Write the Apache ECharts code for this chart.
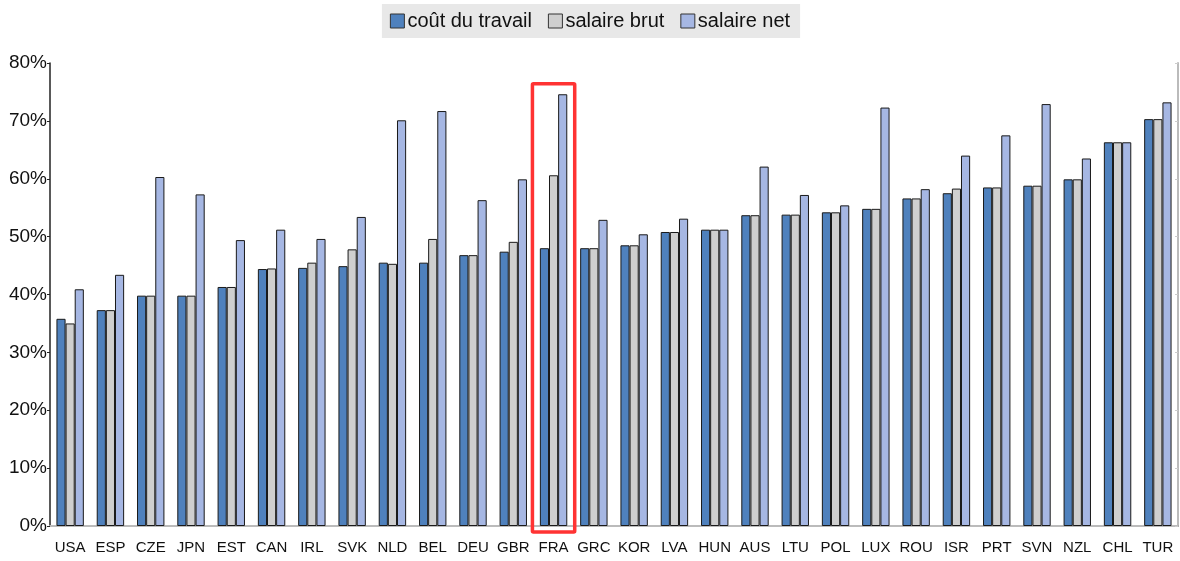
<!DOCTYPE html>
<html>
<head>
<meta charset="utf-8">
<script src="https://cdn.jsdelivr.net/npm/echarts@6/dist/echarts.min.js"></script>
<style>
  html, body { margin: 0; padding: 0; background: #fff; }
  #chart { width: 1180px; height: 561px; }
</style>
</head>
<body>
<div id="chart"></div>
<script>
var countries = ['USA', 'ESP', 'CZE', 'JPN', 'EST', 'CAN', 'IRL', 'SVK', 'NLD', 'BEL', 'DEU', 'GBR', 'FRA', 'GRC',
    'KOR', 'LVA', 'HUN', 'AUS', 'LTU', 'POL', 'LUX', 'ROU', 'ISR', 'PRT', 'SVN', 'NZL', 'CHL', 'TUR'];

var coutTravail = [35.8, 37.3, 39.8, 39.8, 41.3, 44.4, 44.6, 44.9, 45.5, 45.5, 46.8, 47.4, 48.0, 48.0,
    48.5, 50.8, 51.2, 53.7, 53.8, 54.2, 54.8, 56.6, 57.5, 58.5, 58.8, 59.9, 66.3, 70.3];
var salaireBrut = [35.0, 37.3, 39.8, 39.8, 41.3, 44.5, 45.5, 47.8, 45.3, 49.6, 46.8, 49.1, 60.6, 48.0,
    48.5, 50.8, 51.2, 53.7, 53.8, 54.2, 54.8, 56.6, 58.3, 58.5, 58.8, 59.9, 66.3, 70.3];
var salaireNet = [40.9, 43.4, 60.3, 57.3, 49.4, 51.2, 49.6, 53.4, 70.1, 71.7, 56.3, 59.9, 74.6, 52.9,
    50.4, 53.1, 51.2, 62.1, 57.2, 55.4, 72.3, 58.2, 64.0, 67.5, 72.9, 63.5, 66.3, 73.2];

var seriesNames = ['coût du travail', 'salaire brut', 'salaire net'];

// highlighted country and the top of its frame (in %)
var highlight = [['FRA', 76.4]];

var myChart = echarts.init(document.getElementById('chart'));

var font = 'Liberation Sans, Arial, sans-serif';
var barStyle = function (color) {
    return { color: color, borderColor: '#1a1a1a', borderWidth: 1 };
};

var option = {
    animation: false,
    textStyle: { fontFamily: font },
    legend: {
        top: 4,
        left: 'center',
        data: seriesNames,
        icon: 'rect',
        backgroundColor: '#e8e8e8',
        padding: [7, 10, 7, 8],
        itemGap: 16,
        itemWidth: 14,
        itemHeight: 14,
        itemStyle: { borderColor: '#333', borderWidth: 1 },
        textStyle: { fontSize: 20, color: '#111', fontFamily: font, padding: [0, 0, 0, -2] }
    },
    grid: { left: 50, right: 2, top: 63, bottom: 35 },
    xAxis: [{
        type: 'category',
        data: countries,
        axisLine: { lineStyle: { color: '#222', width: 1.5 } },
        axisTick: { inside: true, length: 7, lineStyle: { color: '#222' } },
        axisLabel: { color: '#111', fontSize: 15, margin: 14, interval: 0 }
    }, {
        type: 'category',
        data: countries,
        position: 'top',
        axisLine: { lineStyle: { color: '#bbb', width: 2 } },
        axisTick: { inside: true, length: 3, lineStyle: { color: '#ccc' } },
        axisLabel: { show: false }
    }],
    yAxis: [{
        type: 'value',
        min: 0,
        max: 80,
        interval: 10,
        axisLine: { show: true, lineStyle: { color: '#222', width: 1.5 } },
        axisTick: { show: true, length: 3, lineStyle: { color: '#222' } },
        splitLine: { show: false },
        axisLabel: { color: '#111', fontSize: 19, margin: 3, formatter: '{value}%' }
    }, {
        type: 'value',
        min: 0,
        max: 80,
        interval: 10,
        position: 'right',
        axisLine: { show: true, lineStyle: { color: '#bbb', width: 2 } },
        axisTick: { show: true, inside: true, length: 3, lineStyle: { color: '#ccc' } },
        splitLine: { show: false },
        axisLabel: { show: false }
    }],
    series: [
        {
            name: seriesNames[0],
            type: 'bar',
            data: coutTravail,
            barGap: '0%',
            barCategoryGap: '32%',
            itemStyle: barStyle('#4f81bd')
        },
        {
            name: seriesNames[1],
            type: 'bar',
            data: salaireBrut,
            itemStyle: barStyle('#cfcfcf')
        },
        {
            name: seriesNames[2],
            type: 'bar',
            data: salaireNet,
            itemStyle: barStyle('#a6b7e3')
        },
        {
            type: 'custom',
            data: highlight,
            z: 10,
            silent: true,
            renderItem: function (params, api) {
                var top = api.coord([api.value(0), api.value(1)]);
                var base = api.coord([api.value(0), 0]);
                var w = api.size([1, 0])[0] + 2;
                return {
                    type: 'rect',
                    shape: { x: top[0] - w / 2, y: top[1], width: w, height: base[1] - top[1] + 6, r: 1 },
                    style: { fill: null, stroke: '#ff3333', lineWidth: 3.5 }
                };
            }
        }
    ]
};

myChart.setOption(option);
</script>
</body>
</html>
